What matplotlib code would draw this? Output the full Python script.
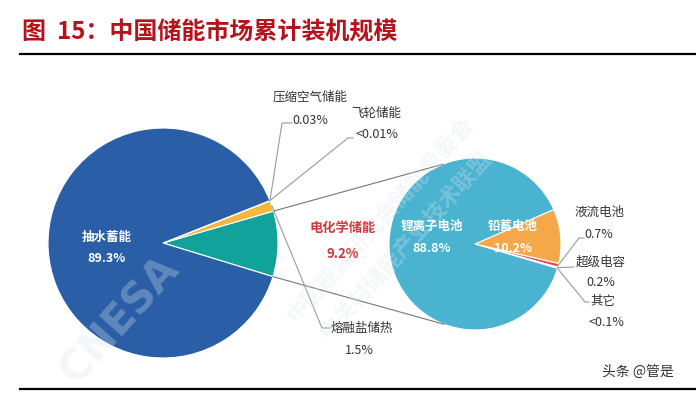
import numpy as np
import matplotlib
matplotlib.use("Agg")
import matplotlib.pyplot as plt

plt.rcParams['font.family'] = ['Noto Sans CJK SC', 'DejaVu Sans']

# data
left_labels = ["电化学储能", "熔融盐储热", "压缩空气储能", "飞轮储能", "抽水蓄能"]
left_values = [9.2, 1.5, 0.03, 0.01, 89.3]
left_text = ["9.2%", "1.5%", "0.03%", "<0.01%", "89.3%"]
left_colors = ["#11a39b", "#f4b73c", "#f4b73c", "#f4b73c", "#2a5fa7"]

right_labels = ["其它", "超级电容", "液流电池", "铅蓄电池", "锂离子电池"]
right_values = [0.05, 0.2, 0.7, 10.2, 88.8]
right_text = ["<0.1%", "0.2%", "0.7%", "10.2%", "88.8%"]
right_colors = ["#e8485e", "#e8485e", "#e8485e", "#f5a84a", "#4ab3d0"]

W, H = 696, 395
fig = plt.figure(figsize=(W / 100, H / 100), dpi=100)
ax = fig.add_axes([0, 0, 1, 1])


def Y(y):
    return H - y


lc = (163, Y(243)); lr = 115
rc = (475, Y(244)); rr = 86

lw, _ = ax.pie(left_values, colors=left_colors, startangle=-17, counterclock=True,
               center=lc, radius=lr, wedgeprops=dict(edgecolor="white", linewidth=0.8))
rw, _ = ax.pie(right_values, colors=right_colors, startangle=-16.5, counterclock=True,
               center=rc, radius=rr, wedgeprops=dict(edgecolor="white", linewidth=0.8))

ax.set_xlim(0, W)
ax.set_ylim(0, H)
ax.set_aspect('equal')
ax.axis('off')


def edge(c, r, ang):
    a = np.deg2rad(ang)
    return c[0] + r * np.cos(a), c[1] + r * np.sin(a)


lcol = "#9a9a9a"
# connection lines from the electrochemical wedge to the right pie
p1 = edge(lc, lr, lw[0].theta2)
q1 = edge(rc, rr, 112)
p2 = edge(lc, lr, lw[0].theta1)
q2 = edge(rc, rr, -111)
ax.plot([p1[0], q1[0]], [p1[1], q1[1]], color="#777777", lw=0.8)
ax.plot([p2[0], q2[0]], [p2[1], q2[1]], color="#777777", lw=0.8)

# leader lines (left pie)
s = edge(lc, lr, (lw[2].theta1 + lw[2].theta2) / 2)
ax.plot([s[0], 282, 292], [s[1], Y(123), Y(123)], color=lcol, lw=0.8)
s = edge(lc, lr, (lw[3].theta1 + lw[3].theta2) / 2)
ax.plot([s[0], 348, 353], [s[1], Y(138), Y(138)], color=lcol, lw=0.8)
s = edge(lc, lr, (lw[1].theta1 + lw[1].theta2) / 2)
ax.plot([s[0], 322, 330], [s[1], Y(328), Y(328)], color=lcol, lw=0.8)

# leader lines (right pie)
s = edge(rc, rr, (rw[2].theta1 + rw[2].theta2) / 2)
ax.plot([s[0], 579, 584], [s[1], Y(238), Y(238)], color=lcol, lw=0.8)
s = edge(rc, rr, (rw[1].theta1 + rw[1].theta2) / 2)
ax.plot([s[0], 574], [s[1], Y(267)], color=lcol, lw=0.8)
s = edge(rc, rr, (rw[0].theta1 + rw[0].theta2) / 2)
ax.plot([s[0], 585, 589], [s[1], Y(302), Y(302)], color=lcol, lw=0.8)

# watermark
wm = dict(color="#dce6f0", alpha=0.3, rotation=48, ha="center", va="center", fontweight="bold")
ax.text(120, Y(320), "CNESA", fontsize=30, family="DejaVu Sans", **wm)
ax.text(380, Y(220), "中国能源研究会储能专委会", fontsize=16, **wm)
ax.text(405, Y(245), "中关村储能产业技术联盟", fontsize=16, **wm)

# labels
white = dict(color="white", fontsize=9, fontweight="bold", ha="center", va="center")
ax.text(107, Y(238), left_labels[4], **white)
ax.text(107, Y(259), left_text[4], **white)
ax.text(432, Y(226), right_labels[4], **white)
ax.text(432, Y(249), right_text[4], **white)
ax.text(513, Y(226), right_labels[3], **white)
ax.text(513, Y(248), right_text[3], **white)

red = dict(color="#d03a3a", fontsize=9.5, fontweight="bold", ha="center", va="center")
ax.text(343, Y(228), left_labels[0], **red)
ax.text(343, Y(254), left_text[0], **red)

dark = dict(color="#333333", fontsize=9, ha="center", va="center")
ax.text(310, Y(97), left_labels[2], **dark)
ax.text(310, Y(120), left_text[2], **dark)
ax.text(376, Y(113), left_labels[3], **dark)
ax.text(377, Y(135), left_text[3], **dark)
ax.text(362, Y(328), left_labels[1], **dark)
ax.text(359, Y(350), left_text[1], **dark)
ax.text(599, Y(212), right_labels[2], **dark)
ax.text(599, Y(235), right_text[2], **dark)
ax.text(601, Y(262), right_labels[1], **dark)
ax.text(601, Y(282), right_text[1], **dark)
ax.text(603, Y(302), right_labels[0], **dark)
ax.text(606, Y(323), right_text[0], **dark)

# title and rules
ax.text(22, Y(32), "图  15：中国储能市场累计装机规模", color="#b5121b", fontsize=17.3,
        fontweight="bold", ha="left", va="center")
ax.plot([20, 696], [Y(54), Y(54)], color="black", lw=1.6)
ax.plot([20, 696], [Y(389), Y(389)], color="black", lw=1.6)
ax.text(638, Y(372), "头条 @管是", color="#333333", fontsize=10, ha="center", va="center")

fig.savefig("out.png", dpi=100)
